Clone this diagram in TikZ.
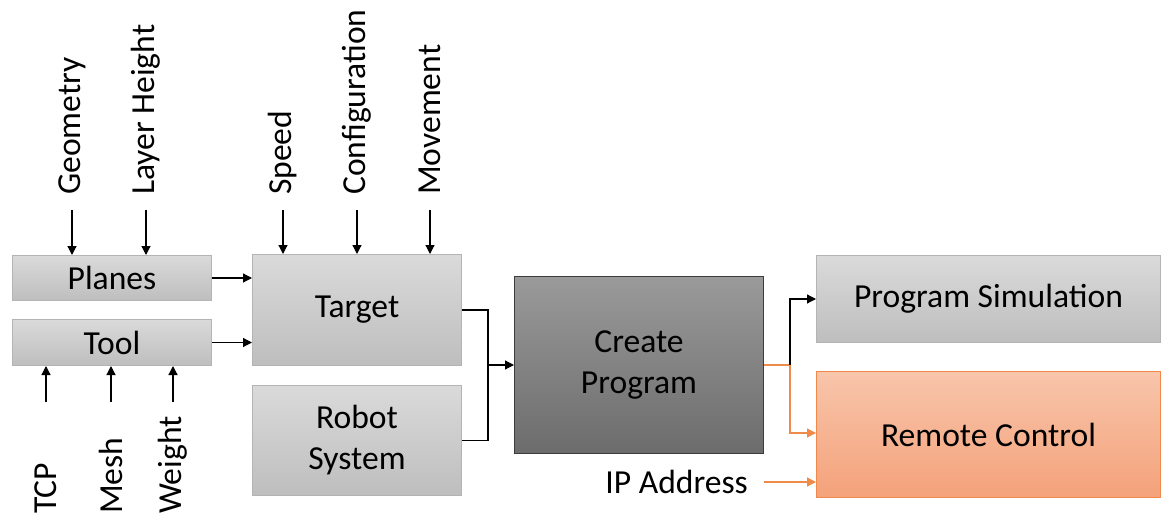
\documentclass[tikz,border=0pt]{standalone}
\usepackage{fontspec}
\setmainfont{Carlito}
\usetikzlibrary{arrows.meta}
\definecolor{grayT}{HTML}{DADADA}
\definecolor{grayB}{HTML}{BEBEBE}
\definecolor{grayE}{HTML}{B4B4B4}
\definecolor{darkT}{HTML}{9A9A9A}
\definecolor{darkB}{HTML}{6C6C6C}
\definecolor{darkE}{HTML}{3C3C3C}
\definecolor{orT}{HTML}{F8C5AB}
\definecolor{orB}{HTML}{F4A27A}
\definecolor{orE}{HTML}{F0894C}
\definecolor{orL}{HTML}{EE8A4A}
\begin{document}
\begin{tikzpicture}[x=1pt,y=-1pt,
  font=\fontsize{33.6}{41}\selectfont,
  graybox/.style={draw=grayE,line width=1pt,top color=grayT,bottom color=grayB,inner sep=0pt,anchor=north west,align=center},
  darkbox/.style={draw=darkE,line width=1pt,top color=darkT,bottom color=darkB,inner sep=0pt,anchor=north west,align=center},
  orbox/.style={draw=orE,line width=1pt,top color=orT,bottom color=orB,inner sep=0pt,anchor=north west,align=center},
  lbl/.style={rotate=90,inner sep=0pt,anchor=west},
  arr/.style={line width=1.2pt,-{Triangle[length=9pt,width=9pt]}},
  line/.style={line width=1.2pt},
  orarr/.style={line width=1.2pt,draw=orL,-{Triangle[length=9pt,width=9pt]},color=orL},
  orline/.style={line width=1.2pt,draw=orL}]
\useasboundingbox (0,0) rectangle (1162,516);

\node[graybox,minimum width=199pt,minimum height=45pt] (planes) at (12,255) {Planes};
\node[graybox,minimum width=199pt,minimum height=46pt] (tool) at (12,319) {Tool};
\node[graybox,minimum width=209pt,minimum height=111pt] (target) at (252,254) {Target};
\node[graybox,minimum width=209pt,minimum height=110pt] (robot) at (252,385) {Robot\\System};
\node[darkbox,minimum width=249pt,minimum height=177pt] (create) at (514,276) {Create\\Program};
\node[graybox,minimum width=344pt,minimum height=87pt] (sim) at (816,255) {Program Simulation};
\node[orbox,minimum width=344pt,minimum height=126pt] (remote) at (816,371) {Remote Control};

% top labels
\node[lbl] (geo) at (72,195) {Geometry};
\node[lbl] (layer) at (146,195) {Layer Height};
\node[lbl] (speed) at (283,195) {Speed};
\node[lbl] (conf) at (357,195) {Configuration};
\node[lbl] (move) at (430,195) {Movement};
\foreach \n/\b in {geo/planes,layer/planes,speed/target,conf/target,move/target}
  \draw[arr] ([yshift=-15pt]\n.west) -- (\n.west |- \b.north);

% bottom labels
\node[lbl] (tcp) at (46,514) {TCP};
\node[lbl] (mesh) at (111,514) {Mesh};
\node[lbl] (weight) at (173,514) {Weight};
\coordinate (tcpS) at (46,402);
\coordinate (meshS) at (111,402);
\coordinate (weightS) at (173,402);
\foreach \n in {tcpS,meshS,weightS}
  \draw[arr] (\n) -- (\n |- tool.south);

% left connections
\draw[arr] (planes.east) -- (planes.east -| target.west);
\draw[arr] (tool.east) -- (tool.east -| target.west);
\coordinate (j1) at (488,365);
\draw[line] (target.east) -| (j1);
\draw[line] (robot.east) -| (j1);
\draw[arr] (j1) -- (j1 -| create.west);

% right connections
\coordinate (j2) at (790,365);
\draw[orline] (create.east |- j2) -- (j2);
\draw[arr] (j2) |- (sim.west);
\draw[orarr] (j2) |- (790,433) -- (816,433);

\node[inner sep=0pt,anchor=east] (ip) at (748,482) {IP Address};
\coordinate (ipS) at (764,482);
\draw[orarr] (ipS) -- (ipS -| remote.west);
\end{tikzpicture}
\end{document}
